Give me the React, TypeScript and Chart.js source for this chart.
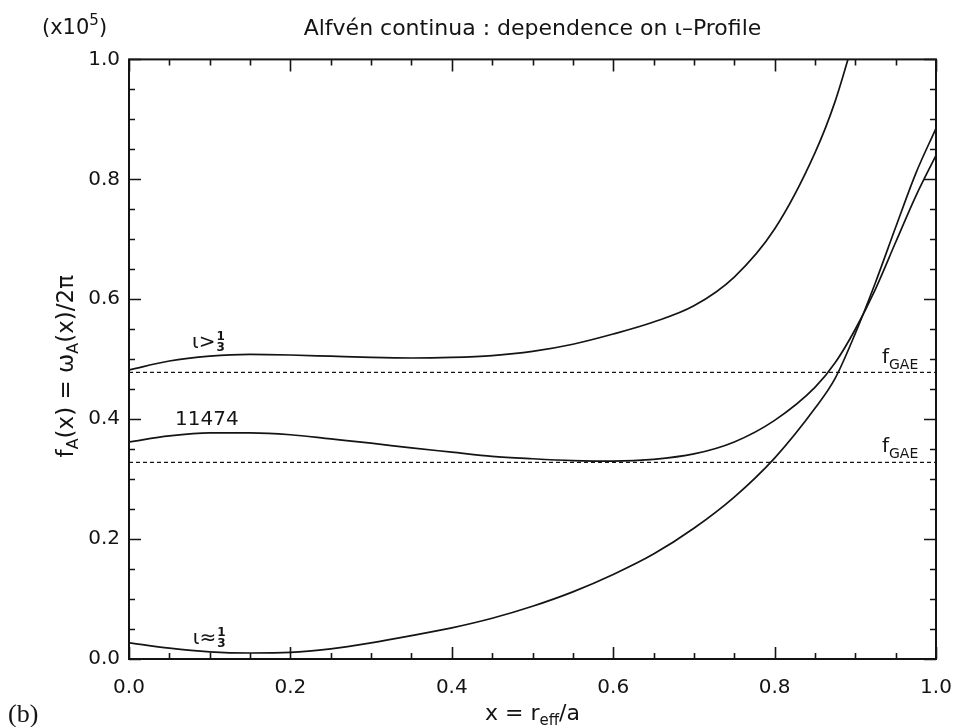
import React, { useEffect, useRef } from "react";
import { Chart, registerables } from "chart.js";

Chart.register(...registerables);

// ---- data (x = r_eff/a, f_A in units of 1e5) ----
const xIotaAbove = [0, 0.05, 0.1, 0.15, 0.2, 0.25, 0.3, 0.35, 0.4, 0.45, 0.5, 0.55, 0.6, 0.65, 0.7, 0.75, 0.8, 0.85, 0.875, 0.9];
const fIotaAbove = [0.482, 0.497, 0.505, 0.508, 0.507, 0.505, 0.503, 0.502, 0.503, 0.506, 0.513, 0.525, 0.542, 0.562, 0.589, 0.637, 0.717, 0.844, 0.93, 1.042];

const x11474 = [0, 0.05, 0.1, 0.15, 0.2, 0.25, 0.3, 0.35, 0.4, 0.45, 0.5, 0.55, 0.6, 0.65, 0.7, 0.75, 0.8, 0.85, 0.875, 0.9, 0.925, 0.95, 0.975, 1.0];
const f11474 = [0.362, 0.372, 0.377, 0.377, 0.374, 0.367, 0.36, 0.352, 0.345, 0.338, 0.334, 0.331, 0.33, 0.333, 0.342, 0.362, 0.398, 0.453, 0.494, 0.55, 0.617, 0.695, 0.772, 0.84];

const xIotaThird = [0, 0.05, 0.1, 0.15, 0.2, 0.25, 0.3, 0.35, 0.4, 0.45, 0.5, 0.55, 0.6, 0.65, 0.7, 0.75, 0.8, 0.85, 0.875, 0.9, 0.925, 0.95, 0.975, 1.0];
const fIotaThird = [0.027, 0.018, 0.012, 0.01, 0.011, 0.017, 0.027, 0.039, 0.052, 0.068, 0.088, 0.112, 0.141, 0.175, 0.218, 0.27, 0.335, 0.418, 0.468, 0.543, 0.628, 0.72, 0.81, 0.885];

const xGae = [0, 1];
const fGaeUpper = [0.478, 0.478];
const fGaeLower = [0.328, 0.328];

const xTickLabels = ["0.0", "0.2", "0.4", "0.6", "0.8", "1.0"];
const yTickLabels = ["0.0", "0.2", "0.4", "0.6", "0.8", "1.0"];

const FONT = '"DejaVu Sans", "Liberation Sans", sans-serif';
const INK = "#141414";

type Part = [string, number, number];

function measureParts(ctx: CanvasRenderingContext2D, parts: Part[]) {
  let w = 0;
  for (const p of parts) {
    ctx.font = `${p[1]}px ${FONT}`;
    w += ctx.measureText(p[0]).width;
  }
  return w;
}

function drawParts(ctx: CanvasRenderingContext2D, parts: Part[], x: number, y: number, align: "left" | "center") {
  const w = measureParts(ctx, parts);
  let cx = align === "center" ? x - w / 2 : x;
  ctx.textAlign = "left";
  ctx.textBaseline = "alphabetic";
  for (const p of parts) {
    ctx.font = `${p[1]}px ${FONT}`;
    ctx.fillText(p[0], cx, y + p[2]);
    cx += ctx.measureText(p[0]).width;
  }
  return cx;
}

function drawFraction(ctx: CanvasRenderingContext2D, x: number, y: number) {
  ctx.font = `bold 12px ${FONT}`;
  ctx.textAlign = "left";
  ctx.fillText("1", x, y - 8);
  ctx.fillText("3", x, y + 3);
}

function pts(xs: number[], ys: number[]) {
  return xs.map((x, i) => ({ x, y: ys[i] }));
}

const framePlugin = {
  id: "frame",
  afterDatasetsDraw(chart: any) {
    const { ctx, chartArea: a, scales } = chart;
    const xs = scales.x;
    const ys = scales.y;
    ctx.save();
    ctx.strokeStyle = INK;
    ctx.fillStyle = INK;
    ctx.lineWidth = 2;
    ctx.strokeRect(a.left, a.top, a.right - a.left, a.bottom - a.top);
    ctx.lineWidth = 1.6;
    for (let i = 0; i <= 20; i++) {
      const v = i / 20;
      const len = i % 4 === 0 ? 12 : 6;
      const px = Math.round(xs.getPixelForValue(v)) + 0.5;
      const py = Math.round(ys.getPixelForValue(v)) + 0.5;
      ctx.beginPath();
      ctx.moveTo(px, a.bottom);
      ctx.lineTo(px, a.bottom - len);
      ctx.moveTo(px, a.top);
      ctx.lineTo(px, a.top + len);
      ctx.moveTo(a.left, py);
      ctx.lineTo(a.left + len, py);
      ctx.moveTo(a.right, py);
      ctx.lineTo(a.right - len, py);
      ctx.stroke();
    }

    // annotations, positioned through the scales
    const P = (x: number, y: number) => [xs.getPixelForValue(x), ys.getPixelForValue(y)];
    let [ax, ay] = P(0.078, 0.518);
    let end = drawParts(ctx, [["ι>", 20, 0]], ax, ay, "left");
    drawFraction(ctx, end + 1, ay);

    [ax, ay] = P(0.057, 0.39);
    drawParts(ctx, [["11474", 20, 0]], ax, ay, "left");

    [ax, ay] = P(0.079, 0.025);
    end = drawParts(ctx, [["ι≈", 20, 0]], ax, ay, "left");
    drawFraction(ctx, end + 1, ay);

    [ax, ay] = P(0.933, 0.493);
    drawParts(ctx, [["f", 20, 0], ["GAE", 14, 6]], ax, ay, "left");
    [ax, ay] = P(0.933, 0.345);
    drawParts(ctx, [["f", 20, 0], ["GAE", 14, 6]], ax, ay, "left");

    // axis titles
    const cx = (a.left + a.right) / 2;
    drawParts(ctx, [["x = r", 22, 0], ["eff", 15, 5], ["/a", 22, 0]], cx, 720, "center");

    ctx.save();
    ctx.translate(73, (a.top + a.bottom) / 2 + 7);
    ctx.rotate(-Math.PI / 2);
    drawParts(
      ctx,
      [["f", 23, 0], ["A", 16, 5], ["(x) = ω", 23, 0], ["A", 16, 5], ["(x)/2π", 23, 0]],
      0,
      0,
      "center"
    );
    ctx.restore();

    drawParts(ctx, [["(x10", 21, 0], ["5", 15, -9], [")", 21, 0]], 42, 34, "left");

    ctx.font = `26px "Liberation Serif", serif`;
    ctx.textAlign = "left";
    ctx.fillText("(b)", 8, 722);
    ctx.restore();
  },
};

export default function App() {
  const ref = useRef<HTMLCanvasElement>(null);

  useEffect(() => {
    document.body.style.margin = "0";
    const lineDs = (label: string, data: any[], dash: number[] = [], width = 1.7) => ({
      label,
      data,
      borderColor: INK,
      borderWidth: width,
      borderDash: dash,
      pointRadius: 0,
      fill: false,
      cubicInterpolationMode: "monotone" as const,
      clip: 0,
    });

    const chart = new Chart(ref.current as HTMLCanvasElement, {
      type: "line",
      data: {
        datasets: [
          lineDs("ι>1/3", pts(xIotaAbove, fIotaAbove)),
          lineDs("11474", pts(x11474, f11474)),
          lineDs("ι≈1/3", pts(xIotaThird, fIotaThird)),
          lineDs("fGAE upper", pts(xGae, fGaeUpper), [4, 3], 1.4),
          lineDs("fGAE lower", pts(xGae, fGaeLower), [4, 3], 1.4),
        ],
      },
      options: {
        animation: false,
        responsive: false,
        devicePixelRatio: 1,
        layout: { padding: { left: 0, right: 21, top: 0, bottom: 0 } },
        plugins: {
          legend: { display: false },
          tooltip: { enabled: false },
          title: {
            display: true,
            text: "Alfvén continua : dependence on ι–Profile",
            fullSize: false,
            color: INK,
            font: { family: FONT, size: 22, weight: "normal" },
            padding: { top: 16, bottom: 17 },
          },
        },
        scales: {
          x: {
            type: "linear",
            min: 0,
            max: 1,
            grid: { display: false, drawTicks: false },
            border: { display: false },
            afterFit: (s: any) => {
              s.height = 68;
              s.paddingLeft = 0;
              s.paddingRight = 0;
            },
            afterBuildTicks: (s: any) => {
              s.ticks = xTickLabels.map((t) => ({ value: parseFloat(t) }));
            },
            ticks: {
              color: INK,
              font: { family: FONT, size: 20 },
              padding: 17,
              maxRotation: 0,
              callback: (v: any) => xTickLabels.find((t) => parseFloat(t) === Number(v)) ?? "",
            },
          },
          y: {
            type: "linear",
            min: 0,
            max: 1,
            grid: { display: false, drawTicks: false },
            border: { display: false },
            afterFit: (s: any) => {
              s.width = 129;
              s.paddingTop = 0;
              s.paddingBottom = 0;
            },
            afterBuildTicks: (s: any) => {
              s.ticks = yTickLabels.map((t) => ({ value: parseFloat(t) }));
            },
            ticks: {
              color: INK,
              font: { family: FONT, size: 20 },
              padding: 9,
              callback: (v: any) => yTickLabels.find((t) => parseFloat(t) === Number(v)) ?? "",
            },
          },
        },
      },
      plugins: [framePlugin],
    });
    return () => chart.destroy();
  }, []);

  return (
    <div style={{ position: "absolute", left: 0, top: 0, width: 957, height: 727, background: "#fff" }}>
      <canvas ref={ref} width={957} height={727} style={{ display: "block" }} />
    </div>
  );
}
